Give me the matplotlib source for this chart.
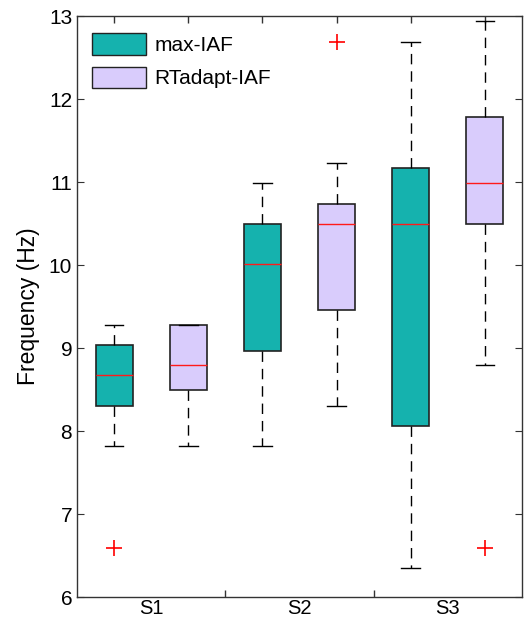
import matplotlib
matplotlib.use("Agg")
import matplotlib.pyplot as plt
from matplotlib.patches import Patch

plt.rcParams['font.family'] = ['Liberation Sans', 'DejaVu Sans']

groups = ["S1", "S2", "S3"]
series = ["max-IAF", "RTadapt-IAF"]
# box order: S1 max, S1 RT, S2 max, S2 RT, S3 max, S3 RT
whislo = [7.82, 7.82, 7.82, 8.30, 6.35, 8.79]
q1 = [8.30, 8.49, 8.97, 9.46, 8.06, 10.50]
med = [8.67, 8.79, 10.01, 10.50, 10.50, 10.99]
q3 = [9.04, 9.28, 10.50, 10.74, 11.17, 11.78]
whishi = [9.28, 9.28, 10.99, 11.23, 12.69, 12.94]
fliers = [[6.59], [], [], [12.69], [], [6.59]]

colors = ["#15b2ae", "#d9ccfc"]

fig = plt.figure(figsize=(5.26, 6.23), dpi=100)
ax = fig.add_axes([0.1464, 0.0417, 0.9924 - 0.1464, 0.9743 - 0.0417])

stats = []
for i in range(6):
    stats.append(dict(med=med[i], q1=q1[i], q3=q3[i], whislo=whislo[i],
                      whishi=whishi[i], fliers=fliers[i]))
positions = list(range(1, 7))
bp = ax.bxp(stats, positions=positions, widths=0.5, patch_artist=True,
            showfliers=True, capwidths=0.25,
            boxprops=dict(edgecolor="#222222", linewidth=1.2),
            medianprops=dict(color="#ff1a1a", linewidth=1.0),
            whiskerprops=dict(color="black", linestyle=(0, (7.5, 5)), linewidth=1.0),
            capprops=dict(color="black", linewidth=1.0),
            flierprops=dict(marker="+", markeredgecolor="red", markersize=11,
                            markeredgewidth=1.2, linestyle="none"))
for i, box in enumerate(bp["boxes"]):
    box.set_facecolor(colors[i % 2])

ax.set_xlim(0.5, 6.5)
ax.set_ylim(6, 13)
ax.set_yticks(range(6, 14))
ax.set_xticks([1.5, 3.5, 5.5])
ax.set_xticklabels(groups)
ax.set_xticks([2.5, 4.5], minor=True)
ax.tick_params(axis="x", which="major", length=0, labelsize=14.5, pad=1.5)
ax.tick_params(axis="x", which="minor", length=5, direction="in", width=1, colors="#333333")
ax.tick_params(axis="y", direction="in", length=5, labelsize=15, right=True,
               colors="#333333", labelcolor="black")
ax.set_ylabel("Frequency (Hz)", fontsize=16.5, labelpad=6)

ax_top = ax.secondary_xaxis("top")
ax_top.set_xticks(positions)
ax_top.tick_params(direction="in", length=5, labeltop=False, width=1, colors="#333333")
ax_top.spines["top"].set_visible(False)

for s in ax.spines.values():
    s.set_color("#333333")
    s.set_linewidth(1.0)

handles = [Patch(facecolor=colors[0], edgecolor="#222222", label=series[0]),
           Patch(facecolor=colors[1], edgecolor="#222222", label=series[1])]
ax.legend(handles=handles, loc="upper left", frameon=False, fontsize=15,
          handlelength=2.6, handleheight=1.2, labelspacing=0.55,
          handletextpad=0.4, borderaxespad=0.3, bbox_to_anchor=(0.0, 0.995))

fig.savefig("out.png", dpi=100)
